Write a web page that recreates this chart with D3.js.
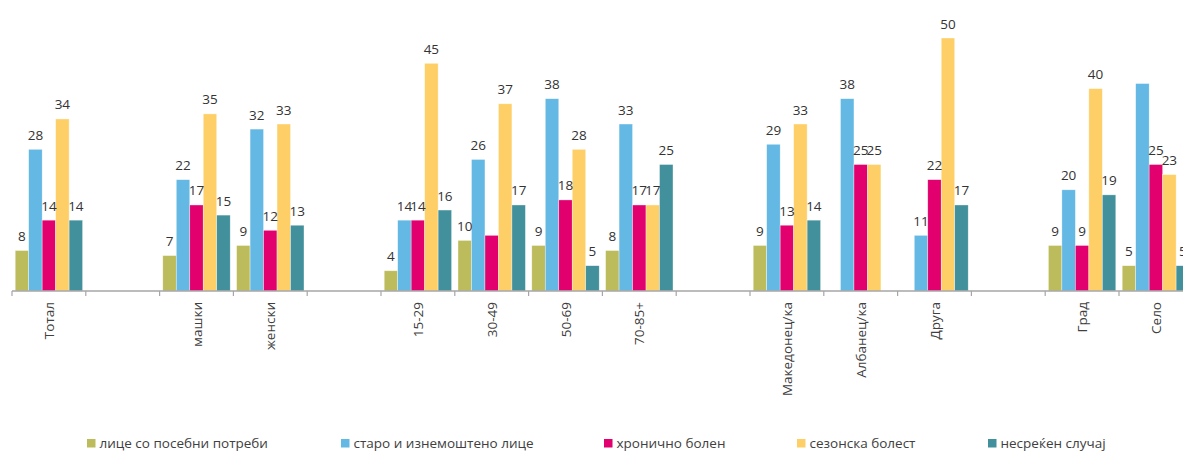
<!DOCTYPE html>
<html>
<head>
<meta charset="utf-8">
<script src="https://cdn.jsdelivr.net/npm/d3@7/dist/d3.min.js"></script>
<style>
  html, body { margin: 0; padding: 0; background: #fff; }
  svg { display: block; }
  text { font-family: "Open Sans", "DejaVu Sans", sans-serif; fill: #404040; }
</style>
</head>
<body>
<svg id="chart" width="1183" height="451"></svg>
<script>
// Category groups along the x axis; empty strings are spacer slots between groups
const categories = ["Тотал", "", "машки", "женски", "", "15-29", "30-49", "50-69", "70-85+", "",
  "Македонец/ка", "Албанец/ка", "Друга", "", "Град", "Село"];

const seriesNames = ["лице со посебни потреби", "старо и изнемоштено лице", "хронично болен",
  "сезонска болест", "несреќен случај"];
const seriesColors = ["#BDBC5C", "#63B8E4", "#E2006F", "#FECF67", "#41909B"];

// Percentages per series (null = spacer slot, no bar)
const specialNeeds = [8, null, 7, 9, null, 4, 10, 9, 8, null, 9, 0, 0, null, 9, 5];
const elderly      = [28, null, 22, 32, null, 14, 26, 38, 33, null, 29, 38, 11, null, 20, 41];
const chronic      = [14, null, 17, 12, null, 14, 11, 18, 17, null, 13, 25, 22, null, 9, 25];
const seasonal     = [34, null, 35, 33, null, 45, 37, 28, 17, null, 33, 25, 50, null, 40, 23];
const accident     = [14, null, 15, 13, null, 16, 17, 5, 25, null, 14, 0, 17, null, 19, 5];

// Bars whose value label is not shown: [series index, category index]
const unlabeled = [[2, 6], [1, 15]];

const seriesValues = [specialNeeds, elderly, chronic, seasonal, accident];

const svg = d3.select("#chart");
const baseY = 291;
const step = 73.8;
const x0Start = 12;

const x0 = d3.scaleBand()
  .domain(d3.range(categories.length))
  .range([x0Start, x0Start + step * categories.length])
  .padding(0);

const x1 = d3.scaleBand()
  .domain(d3.range(seriesNames.length))
  .range([3.2, step - 3.2])
  .padding(0);

const y = d3.scaleLinear().domain([0, 50]).range([baseY, 38]);

const hidden = new Set(unlabeled.map(d => d[0] + ":" + d[1]));

// Bars
const groups = svg.append("g").selectAll("g")
  .data(categories.map((c, i) => i))
  .join("g")
  .attr("transform", i => `translate(${x0(i)},0)`);

groups.selectAll("rect")
  .data(i => seriesValues.map((vals, s) => ({ s, i, v: vals[i] })).filter(d => d.v))
  .join("rect")
  .attr("x", d => x1(d.s))
  .attr("width", x1.bandwidth())
  .attr("y", d => y(d.v))
  .attr("height", d => y(0) - y(d.v))
  .attr("fill", d => seriesColors[d.s])
  .attr("stroke", "rgba(255,255,255,0.6)")
  .attr("stroke-width", 0.6);

// Value labels
groups.selectAll("text.val")
  .data(i => seriesValues.map((vals, s) => ({ s, i, v: vals[i] }))
    .filter(d => d.v && !hidden.has(d.s + ":" + d.i)))
  .join("text")
  .attr("class", "val")
  .attr("x", d => x1(d.s) + x1.bandwidth() / 2)
  .attr("y", d => y(d.v) - 9.5)
  .attr("text-anchor", "middle")
  .style("font-size", "13.5px")
  .style("fill", "#333")
  .text(d => d.v);

// X axis line and tick marks at the category boundaries
const axisG = svg.append("g");
axisG.append("line")
  .attr("x1", x0Start).attr("x2", x0Start + step * categories.length)
  .attr("y1", baseY).attr("y2", baseY)
  .attr("stroke", "#A6A6A6").attr("stroke-width", 1.5);
axisG.selectAll("line.tick")
  .data(d3.range(categories.length + 1))
  .join("line")
  .attr("class", "tick")
  .attr("x1", i => x0Start + i * step).attr("x2", i => x0Start + i * step)
  .attr("y1", baseY).attr("y2", baseY + 5)
  .attr("stroke", "#A6A6A6").attr("stroke-width", 1.2);

// Rotated category labels
svg.append("g").selectAll("text")
  .data(categories.map((c, i) => ({ c, i })).filter(d => d.c))
  .join("text")
  .attr("transform", d => `translate(${x0(d.i) + step / 2 + 5},${baseY + 11}) rotate(-90)`)
  .attr("text-anchor", "end")
  .style("font-size", "13.5px")
  .text(d => d.c);

// Legend
const legendX = [87, 341, 604, 797, 988];
const legend = svg.append("g").selectAll("g")
  .data(seriesNames.map((n, s) => ({ n, s })))
  .join("g")
  .attr("transform", d => `translate(${legendX[d.s]},439)`);
legend.append("rect")
  .attr("width", 8.5).attr("height", 8.5)
  .attr("fill", d => seriesColors[d.s]);
legend.append("text")
  .attr("x", 12.5).attr("y", 8.5)
  .style("font-size", "13.5px")
  .text(d => d.n);
</script>
</body>
</html>
